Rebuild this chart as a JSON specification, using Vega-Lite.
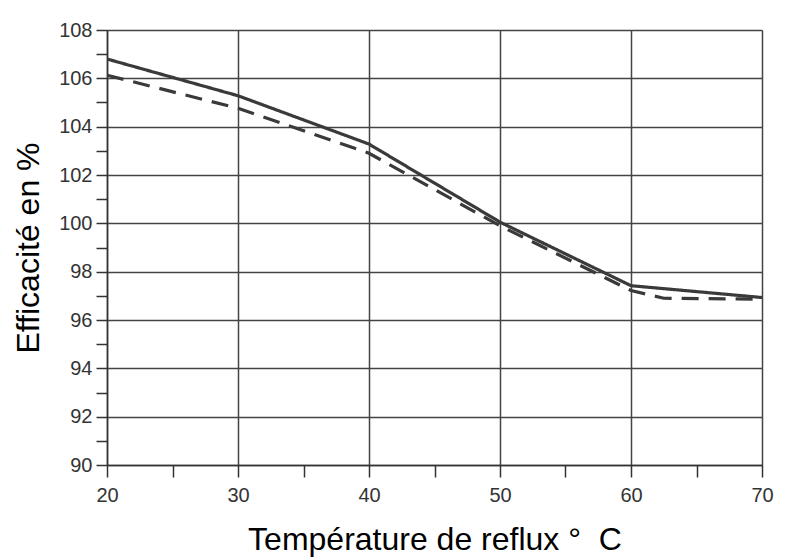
{
  "$schema": "https://vega.github.io/schema/vega-lite/v6.json",
  "width": 655,
  "height": 435,
  "autosize": {"type": "none"},
  "padding": {"left": 107, "top": 30, "right": 33, "bottom": 94},
  "background": "white",
  "config": {
    "view": {"stroke": null},
    "font": "Liberation Sans"
  },
  "data": {
    "values": [
      {"t": 20, "eff": 106.8, "serie": "A"},
      {"t": 30, "eff": 105.28, "serie": "A"},
      {"t": 40, "eff": 103.28, "serie": "A"},
      {"t": 50, "eff": 100.05, "serie": "A"},
      {"t": 60, "eff": 97.42, "serie": "A"},
      {"t": 70, "eff": 96.93, "serie": "A"},
      {"t": 20, "eff": 106.13, "serie": "B"},
      {"t": 30, "eff": 104.76, "serie": "B"},
      {"t": 40, "eff": 102.9, "serie": "B"},
      {"t": 50, "eff": 99.9, "serie": "B"},
      {"t": 60, "eff": 97.22, "serie": "B"},
      {"t": 62.5, "eff": 96.9, "serie": "B"},
      {"t": 70, "eff": 96.86, "serie": "B"}
    ]
  },
  "mark": {"type": "line", "strokeWidth": 3.2, "color": "#3a3a3a", "clip": true},
  "encoding": {
    "x": {
      "field": "t",
      "type": "quantitative",
      "scale": {"domain": [20, 70], "nice": false, "zero": false},
      "axis": {
        "title": "Température de reflux\u00a0°\u00a0\u00a0C",
        "titleFont": "Liberation Sans",
        "titleFontSize": 32,
        "titleFontWeight": "normal",
        "titleColor": "#000000",
        "titlePadding": 19,
        "values": [20, 25, 30, 35, 40, 45, 50, 55, 60, 65, 70],
        "labelExpr": "datum.value % 10 == 0 ? datum.label : ''",
        "labelFontSize": 20,
        "labelColor": "#333333",
        "labelPadding": 8,
        "labelFlush": false,
        "tickSize": 12,
        "tickWidth": 1.5,
        "tickColor": "#333333",
        "domainColor": "#333333",
        "domainWidth": 1.5,
        "grid": true,
        "gridColor": "#444444",
        "gridWidth": 1.5,
        "gridOpacity": {"condition": {"test": "datum.value % 10 != 0", "value": 0}, "value": 1}
      }
    },
    "y": {
      "field": "eff",
      "type": "quantitative",
      "scale": {"domain": [90, 108], "nice": false, "zero": false},
      "axis": {
        "title": "Efficacité en %",
        "titleFont": "Liberation Sans",
        "titleFontSize": 32,
        "titleFontWeight": "normal",
        "titleColor": "#000000",
        "titlePadding": 13,
        "values": [90, 91, 92, 93, 94, 95, 96, 97, 98, 99, 100, 101, 102, 103, 104, 105, 106, 107, 108],
        "labelExpr": "datum.value % 2 == 0 ? datum.label : ''",
        "labelFontSize": 20,
        "labelColor": "#333333",
        "labelPadding": 4,
        "labelFlush": false,
        "tickSize": 11,
        "tickWidth": 1.5,
        "tickColor": "#333333",
        "domainColor": "#333333",
        "domainWidth": 1.5,
        "grid": true,
        "gridColor": "#444444",
        "gridWidth": 1.5,
        "gridOpacity": {"condition": {"test": "datum.value % 2 != 0", "value": 0}, "value": 1}
      }
    },
    "strokeDash": {
      "field": "serie",
      "type": "nominal",
      "scale": {"domain": ["A", "B"], "range": [[1, 0], [17, 10]]},
      "legend": null
    }
  }
}
